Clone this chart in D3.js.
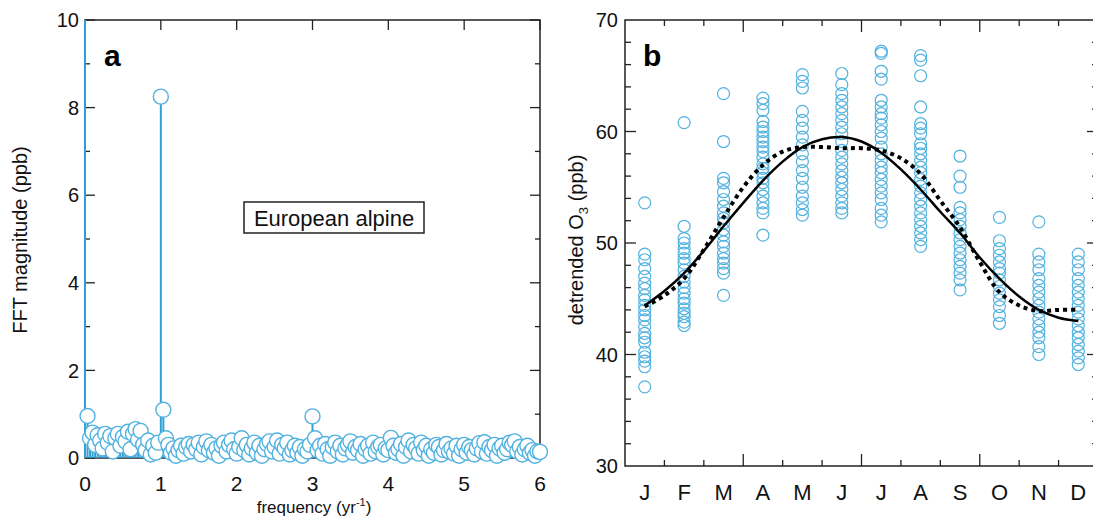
<!DOCTYPE html>
<html>
<head>
<meta charset="utf-8">
<script src="https://cdn.jsdelivr.net/npm/d3@7"></script>
<style>
  html, body { margin: 0; padding: 0; background: #fff; }
  svg { display: block; font-family: "Liberation Sans", Arial, sans-serif; }
</style>
</head>
<body>
<svg id="chart" width="1093" height="520"></svg>
<script>
// ---- panel a: FFT spectrum (frequency grid step 1/30 yr^-1, 0..6) ----
const freqStep = 1 / 30;
const fftMagnitude = [
  30, 0.96, 0.45, 0.58, 0.30, 0.52, 0.40, 0.22, 0.55, 0.35,
  0.50, 0.15, 0.45, 0.55, 0.28, 0.48, 0.38, 0.60, 0.20, 0.55,
  0.66, 0.42, 0.62, 0.30, 0.18, 0.40, 0.08, 0.28, 0.12, 0.35,
  8.25, 1.10, 0.45, 0.30, 0.12, 0.22, 0.05, 0.18, 0.28, 0.10,
  0.25, 0.32, 0.15, 0.30, 0.20, 0.35, 0.08, 0.25, 0.38, 0.18,
  0.30, 0.12, 0.22, 0.05, 0.28, 0.35, 0.15, 0.30, 0.40, 0.20,
  0.10, 0.25, 0.45, 0.18, 0.30, 0.08, 0.22, 0.35, 0.12, 0.28,
  0.05, 0.20, 0.32, 0.38, 0.15, 0.25, 0.40, 0.10, 0.30, 0.22,
  0.35, 0.08, 0.18, 0.28, 0.12, 0.25, 0.05, 0.20, 0.15, 0.30,
  0.95, 0.45, 0.18, 0.28, 0.10, 0.32, 0.20, 0.05, 0.25, 0.35,
  0.15, 0.28, 0.08, 0.22, 0.30, 0.38, 0.12, 0.25, 0.18, 0.32,
  0.05, 0.20, 0.28, 0.10, 0.35, 0.15, 0.25, 0.30, 0.08, 0.22,
  0.18, 0.46, 0.28, 0.12, 0.20, 0.32, 0.05, 0.25, 0.40, 0.15,
  0.30, 0.22, 0.10, 0.35, 0.18, 0.28, 0.05, 0.20, 0.12, 0.30,
  0.25, 0.08, 0.18, 0.32, 0.15, 0.22, 0.10, 0.28, 0.05, 0.20,
  0.30, 0.12, 0.25, 0.18, 0.08, 0.22, 0.34, 0.15, 0.36, 0.10,
  0.25, 0.18, 0.30, 0.05, 0.22, 0.28, 0.12, 0.20, 0.35, 0.30,
  0.38, 0.15, 0.25, 0.08, 0.20, 0.28, 0.12, 0.18, 0.05, 0.15,
  0.14
];
const fftXTicks = [0, 1, 2, 3, 4, 5, 6];
const fftYTicks = [0, 2, 4, 6, 8, 10];

// ---- panel b: detrended O3 by month ----
const monthLabels = ['J', 'F', 'M', 'A', 'M', 'J', 'J', 'A', 'S', 'O', 'N', 'D'];
const o3Jan = [53.6, 49.0, 48.5, 47.7, 47.0, 46.4, 45.9, 45.3, 44.9, 44.4, 44.0, 43.5, 43.1, 42.5, 41.9, 41.5, 41.1, 40.2, 39.8, 39.4, 38.9, 37.1];
const o3Feb = [60.8, 51.5, 50.4, 50.0, 49.5, 49.1, 48.6, 48.2, 47.6, 47.0, 46.5, 46.0, 45.5, 45.0, 44.6, 44.1, 43.7, 43.4, 42.9, 42.6];
const o3Mar = [63.4, 59.1, 55.8, 55.4, 54.6, 53.9, 53.3, 52.7, 52.2, 51.8, 51.2, 50.7, 50.1, 49.7, 49.1, 48.6, 48.2, 47.7, 47.3, 45.3];
const o3Apr = [63.0, 62.5, 61.9, 60.9, 60.4, 60.0, 59.5, 59.1, 58.6, 58.2, 57.7, 57.1, 56.7, 56.3, 55.8, 55.4, 54.8, 54.2, 53.6, 53.1, 52.7, 50.7];
const o3May = [65.1, 64.5, 63.9, 61.8, 61.0, 60.3, 59.5, 58.8, 58.0, 57.3, 56.5, 55.8, 55.0, 54.2, 53.6, 53.0, 52.5];
const o3Jun = [65.2, 64.2, 63.4, 62.8, 62.2, 61.6, 61.0, 60.4, 59.8, 59.1, 58.3, 57.7, 57.1, 56.5, 55.9, 55.4, 54.8, 54.2, 53.6, 53.1, 52.7];
const o3Jul = [67.2, 67.0, 65.4, 64.7, 62.8, 62.2, 61.6, 61.2, 60.6, 60.0, 59.4, 58.6, 58.0, 57.4, 56.8, 56.3, 55.7, 55.1, 54.5, 53.9, 53.1, 52.5, 51.9];
const o3Aug = [66.8, 66.4, 65.0, 62.2, 60.7, 60.3, 59.8, 58.9, 58.5, 58.0, 57.4, 56.8, 56.3, 55.7, 55.1, 54.5, 53.9, 53.3, 52.7, 52.1, 51.5, 50.9, 50.3, 49.7];
const o3Sep = [57.8, 56.0, 55.0, 53.2, 52.7, 52.1, 51.5, 50.9, 50.3, 49.7, 49.1, 48.5, 47.9, 47.3, 46.7, 45.8];
const o3Oct = [52.3, 50.2, 49.5, 48.9, 48.3, 47.7, 47.3, 46.7, 46.1, 45.5, 44.9, 44.3, 43.5, 42.8];
const o3Nov = [51.9, 49.0, 48.3, 47.6, 46.8, 46.2, 45.6, 45.0, 44.4, 43.8, 43.2, 42.6, 42.0, 41.5, 40.7, 40.0];
const o3Dec = [49.0, 48.3, 47.6, 46.8, 46.2, 45.6, 45.0, 44.4, 43.8, 43.2, 42.6, 42.0, 41.5, 40.9, 40.3, 39.7, 39.1];
const o3ByMonth = [o3Jan, o3Feb, o3Mar, o3Apr, o3May, o3Jun, o3Jul, o3Aug, o3Sep, o3Oct, o3Nov, o3Dec];
const o3YTicks = [30, 40, 50, 60, 70];

// fitted seasonal cycles, read at half-month steps (month 0.5 = mid Jan)
const fitMonths = [0.5, 1, 1.5, 2, 2.5, 3, 3.5, 4, 4.5, 5, 5.5, 6, 6.5, 7, 7.5, 8, 8.5, 9, 9.5, 10, 10.5, 11, 11.5];
const fitSolid = [44.4, 45.7, 47.3, 49.3, 51.5, 53.6, 55.6, 57.3, 58.6, 59.3, 59.5, 59.1, 58.1, 56.6, 54.8, 52.8, 50.9, 48.7, 46.8, 45.2, 44.0, 43.3, 43.0];
const fitDotted = [44.3, 45.3, 46.8, 49.4, 52.3, 55.0, 57.0, 58.2, 58.6, 58.6, 58.5, 58.5, 58.3, 57.6, 56.2, 53.8, 51.4, 48.3, 45.6, 44.4, 43.9, 44.0, 44.0];

const svg = d3.select('#chart');
const axisColor = '#222';
const blueStem = '#2f9fd8', blueRing = '#52b2df';

// =========== panel a ===========
const xA = d3.scaleLinear().domain([0, 6]).range([85, 540]);
const yA = d3.scaleLinear().domain([0, 10]).range([458, 20]);
const gA = svg.append('g');

// frame
gA.append('rect').attr('x', xA(0)).attr('y', yA(10))
  .attr('width', xA(6) - xA(0)).attr('height', yA(0) - yA(10))
  .attr('fill', 'none').attr('stroke', axisColor).attr('stroke-width', 1.5);

// ticks (inward) on all four sides
const aMinorY = [1, 3, 5, 7, 9];
fftYTicks.forEach(v => {
  gA.append('line').attr('x1', xA(0)).attr('x2', xA(0) + 10).attr('y1', yA(v)).attr('y2', yA(v)).attr('stroke', axisColor).attr('stroke-width', 1.3);
  gA.append('line').attr('x1', xA(6)).attr('x2', xA(6) - 10).attr('y1', yA(v)).attr('y2', yA(v)).attr('stroke', axisColor).attr('stroke-width', 1.3);
});
aMinorY.forEach(v => {
  gA.append('line').attr('x1', xA(0)).attr('x2', xA(0) + 5).attr('y1', yA(v)).attr('y2', yA(v)).attr('stroke', axisColor).attr('stroke-width', 1.3);
  gA.append('line').attr('x1', xA(6)).attr('x2', xA(6) - 5).attr('y1', yA(v)).attr('y2', yA(v)).attr('stroke', axisColor).attr('stroke-width', 1.3);
});
fftXTicks.forEach(v => {
  gA.append('line').attr('x1', xA(v)).attr('x2', xA(v)).attr('y1', yA(0)).attr('y2', yA(0) - 10).attr('stroke', axisColor).attr('stroke-width', 1.3);
  gA.append('line').attr('x1', xA(v)).attr('x2', xA(v)).attr('y1', yA(10)).attr('y2', yA(10) + 10).attr('stroke', axisColor).attr('stroke-width', 1.3);
});

// stems and rings
const fft = fftMagnitude.map((m, i) => ({ f: i * freqStep, m }));
gA.selectAll('line.stem').data(fft).enter().append('line').attr('class', 'stem')
  .attr('x1', d => xA(d.f)).attr('x2', d => xA(d.f))
  .attr('y1', yA(0)).attr('y2', d => yA(Math.min(d.m, 10)))
  .attr('stroke', blueStem).attr('stroke-width', 2);
gA.selectAll('circle').data(fft.filter(d => d.m <= 10)).enter().append('circle')
  .attr('cx', d => xA(d.f)).attr('cy', d => yA(d.m)).attr('r', 7.5)
  .attr('fill', '#fff').attr('stroke', blueRing).attr('stroke-width', 1.4);

// tick labels
gA.selectAll('text.yl').data(fftYTicks).enter().append('text').attr('class', 'yl')
  .attr('x', 79).attr('y', d => yA(d)).attr('dy', '0.36em')
  .attr('text-anchor', 'end').attr('font-size', 20).attr('fill', '#111').text(d => d);
gA.selectAll('text.xl').data(fftXTicks).enter().append('text').attr('class', 'xl')
  .attr('x', d => xA(d)).attr('y', 491)
  .attr('text-anchor', 'middle').attr('font-size', 21).attr('fill', '#111').text(d => d);

// axis titles
const xtA = gA.append('text').attr('x', 314).attr('y', 513).attr('text-anchor', 'middle')
  .attr('font-size', 17).attr('fill', '#111');
xtA.append('tspan').text('frequency (yr');
xtA.append('tspan').attr('dy', -7).attr('font-size', 11).text('-1');
xtA.append('tspan').attr('dy', 7).text(')');
gA.append('text').attr('transform', 'translate(27,240) rotate(-90)')
  .attr('text-anchor', 'middle').attr('font-size', 20).attr('fill', '#111')
  .text('FFT magnitude (ppb)');

// panel letter and label box
gA.append('text').attr('x', 104).attr('y', 66).attr('font-size', 30)
  .attr('font-weight', 'bold').attr('fill', '#000').text('a');
gA.append('rect').attr('x', 244).attr('y', 202).attr('width', 180).attr('height', 31)
  .attr('fill', '#fff').attr('stroke', '#222').attr('stroke-width', 1.5);
gA.append('text').attr('x', 334).attr('y', 226).attr('text-anchor', 'middle')
  .attr('font-size', 22).attr('fill', '#111').text('European alpine');

// =========== panel b ===========
const xB = d3.scaleLinear().domain([0, 12]).range([625, 1098]);
const yB = d3.scaleLinear().domain([30, 70]).range([466, 20]);
const gB = svg.append('g');

gB.append('rect').attr('x', xB(0)).attr('y', yB(70))
  .attr('width', xB(12) - xB(0)).attr('height', yB(30) - yB(70))
  .attr('fill', 'none').attr('stroke', axisColor).attr('stroke-width', 1.5);

d3.range(32, 70, 2).forEach(v => {
  const major = v % 10 === 0;
  const len = major ? 11 : 6;
  gB.append('line').attr('x1', xB(0)).attr('x2', xB(0) + len).attr('y1', yB(v)).attr('y2', yB(v)).attr('stroke', axisColor).attr('stroke-width', 1.3);
  gB.append('line').attr('x1', xB(12)).attr('x2', xB(12) - len).attr('y1', yB(v)).attr('y2', yB(v)).attr('stroke', axisColor).attr('stroke-width', 1.3);
});
d3.range(1, 12).forEach(m => {
  const len = m % 3 === 0 ? 12 : 6;
  gB.append('line').attr('x1', xB(m)).attr('x2', xB(m)).attr('y1', yB(30)).attr('y2', yB(30) - len).attr('stroke', axisColor).attr('stroke-width', 1.3);
  gB.append('line').attr('x1', xB(m)).attr('x2', xB(m)).attr('y1', yB(70)).attr('y2', yB(70) + len).attr('stroke', axisColor).attr('stroke-width', 1.3);
});

// observations
const obs = [];
o3ByMonth.forEach((vals, i) => vals.forEach(v => obs.push({ m: i + 0.5, v })));
gB.selectAll('circle').data(obs).enter().append('circle')
  .attr('cx', d => xB(d.m)).attr('cy', d => yB(d.v)).attr('r', 6)
  .attr('fill', 'none').attr('stroke', blueRing).attr('stroke-width', 1.2);

// fits
const fitLine = () => d3.line().x((d, i) => xB(fitMonths[i])).y(d => yB(d)).curve(d3.curveCatmullRom);
gB.append('path').datum(fitDotted).attr('d', fitLine())
  .attr('fill', 'none').attr('stroke', '#000').attr('stroke-width', 4).attr('stroke-dasharray', '4,4');
gB.append('path').datum(fitSolid).attr('d', fitLine())
  .attr('fill', 'none').attr('stroke', '#000').attr('stroke-width', 2.5);

// labels
gB.selectAll('text.yl').data(o3YTicks).enter().append('text').attr('class', 'yl')
  .attr('x', 618).attr('y', d => yB(d)).attr('dy', '0.36em')
  .attr('text-anchor', 'end').attr('font-size', 20).attr('fill', '#111').text(d => d);
gB.selectAll('text.ml').data(monthLabels).enter().append('text').attr('class', 'ml')
  .attr('x', (d, i) => xB(i + 0.5)).attr('y', 500)
  .attr('text-anchor', 'middle').attr('font-size', 22).attr('fill', '#111').text(d => d);

const ytB = gB.append('text').attr('transform', 'translate(583,240) rotate(-90)')
  .attr('text-anchor', 'middle').attr('font-size', 20).attr('fill', '#111');
ytB.append('tspan').text('detrended O');
ytB.append('tspan').attr('dy', 5).attr('font-size', 13).text('3');
ytB.append('tspan').attr('dy', -5).text(' (ppb)');

gB.append('text').attr('x', 643).attr('y', 66).attr('font-size', 30)
  .attr('font-weight', 'bold').attr('fill', '#000').text('b');
</script>
</body>
</html>
